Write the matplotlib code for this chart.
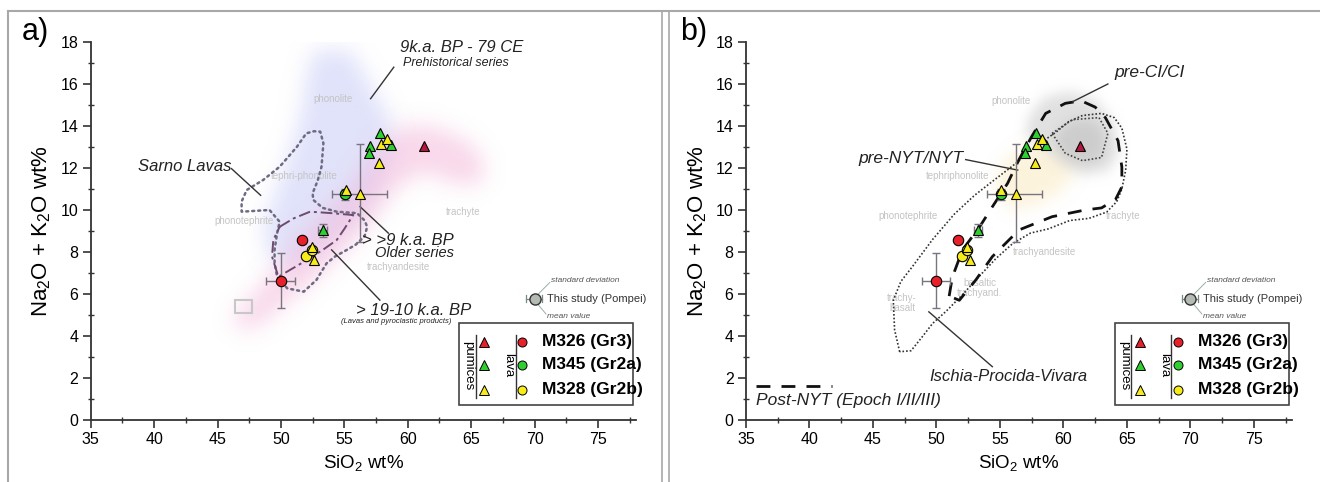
import numpy as np
import matplotlib
matplotlib.use('Agg')
import matplotlib.pyplot as plt
from matplotlib.path import Path
from matplotlib.lines import Line2D
from matplotlib.patches import Rectangle

plt.rcParams['font.family'] = ['Liberation Sans', 'DejaVu Sans']
plt.rcParams['mathtext.default'] = 'regular'

# ---------------- data ----------------
# pumices (triangles)
pum_red_x = [61.3]
pum_red_y = [13.05]
pum_green_x = [57.8, 57.03, 56.95, 58.66, 53.3]
pum_green_y = [13.65, 13.05, 12.73, 13.1, 9.05]
pum_yel_x = [57.9, 58.34, 57.76, 56.24, 55.1, 52.42, 52.64]
pum_yel_y = [13.14, 13.37, 12.25, 10.75, 10.95, 8.25, 7.62]
# lavas (circles)
lava_red_x = [49.98, 51.69]
lava_red_y = [6.62, 8.57]
lava_green_x = [55.05]
lava_green_y = [10.75]
lava_yel_x = [51.98, 52.43]
lava_yel_y = [7.81, 8.08]
# error bars: x, y, xlo, xhi, ylo, yhi
err_x = [49.98, 56.24, 53.3, 55.05]
err_y = [6.62, 10.75, 9.05, 10.75]
err_xlo = [48.85, 54.0, 52.95, 54.85]
err_xhi = [51.1, 58.34, 53.6, 55.25]
err_ylo = [5.31, 8.48, 8.72, 10.5]
err_yhi = [7.93, 13.13, 9.33, 11.0]

x_ticks = [35, 40, 45, 50, 55, 60, 65, 70, 75]
y_ticks = [0, 2, 4, 6, 8, 10, 12, 14, 16, 18]

# panel a outlines / fields
blue_x = [52.5, 55.5, 57.0, 58.5, 59.0, 58.0, 56.5, 54.5, 52.5, 50.5, 49.0, 48.5, 49.5, 50.5, 51.5, 52.0]
blue_y = [17.6, 17.6, 16.0, 14.5, 13.0, 11.5, 10.0, 8.8, 7.8, 7.2, 7.8, 9.2, 10.8, 12.5, 14.5, 16.5]
pink_x = [46.0, 47.5, 49.5, 51.5, 53.5, 55.5, 57.5, 59.5, 62.0, 64.5, 66.0, 65.8, 64.0, 61.5, 59.5, 58.0, 56.5, 54.5, 52.5, 50.5, 48.5, 47.0]
pink_y = [4.8, 5.8, 7.2, 8.8, 10.0, 11.2, 13.0, 14.0, 14.0, 13.4, 12.4, 11.3, 11.2, 11.8, 11.3, 10.2, 9.0, 7.8, 6.6, 5.6, 4.6, 4.2]
sarno_x = [51.25, 52.0, 52.6, 53.1, 53.35, 53.2, 52.9, 52.5, 52.55, 53.3, 54.4, 56.0, 56.6, 56.8, 56.6, 55.9, 55.2, 54.3, 53.6, 52.8, 51.8, 50.5, 49.7, 49.5, 49.5, 49.7, 49.9, 49.1, 46.9, 46.9, 47.3, 48.6, 49.9, 51.25]
sarno_y = [13.0, 13.65, 13.75, 13.73, 13.18, 12.06, 11.4, 10.8, 10.48, 10.1, 9.92, 9.85, 9.5, 9.2, 8.75, 8.35, 8.1, 7.8, 7.46, 6.67, 6.11, 6.27, 6.82, 7.5, 8.1, 8.9, 9.44, 10.0, 9.92, 10.4, 10.95, 11.43, 12.06, 13.0]
old_x = [49.9, 51.0, 52.3, 54.0, 55.7, 55.0, 54.4, 53.3, 52.0, 50.7, 49.8, 49.3, 49.4, 49.9]
old_y = [9.2, 9.6, 9.92, 9.85, 9.76, 9.1, 8.57, 8.1, 7.6, 7.14, 6.82, 7.78, 8.57, 9.2]

# panel b outlines / fields
gray_x = [57.0, 57.3, 58.5, 60.5, 62.5, 64.0, 64.4, 63.6, 61.5, 59.8, 58.3]
gray_y = [13.6, 14.5, 15.4, 15.7, 15.3, 14.2, 12.8, 11.9, 11.7, 12.2, 13.0]
dgray_x = [59.4, 60.3, 61.5, 62.8, 63.4, 63.1, 61.8, 60.3, 59.5]
dgray_y = [13.6, 14.2, 14.4, 14.2, 13.4, 12.5, 12.2, 12.5, 13.1]
cream_x = [54.5, 55.8, 57.5, 59.5, 61.0, 60.0, 58.0, 56.0]
cream_y = [11.3, 12.6, 13.2, 12.8, 12.0, 11.0, 10.3, 10.0]
isch_x = [47.1, 46.7, 46.6, 47.2, 48.1, 49.7, 51.4, 53.0, 54.7, 56.0, 57.0, 58.2, 59.4, 60.4, 61.5, 63.0, 64.0, 64.6, 65.0, 64.9, 64.6, 64.2, 63.4, 62.0, 60.5, 58.8, 57.4, 56.0, 54.7, 53.3, 52.1, 50.8, 49.7, 48.8, 48.0, 47.1]
isch_y = [3.25, 4.3, 5.7, 6.6, 7.3, 8.6, 9.8, 10.7, 11.5, 12.1, 12.6, 13.2, 13.7, 14.2, 14.5, 14.6, 14.4, 13.9, 12.9, 11.9, 11.0, 10.4, 9.9, 9.6, 9.5, 9.1, 8.9, 8.4, 7.7, 6.8, 6.0, 5.2, 4.6, 3.9, 3.3, 3.25]
inner_x = [59.1, 60.7, 62.8, 63.5, 63.0, 61.5, 60.15, 59.1]
inner_y = [13.65, 14.3, 14.4, 13.65, 12.5, 12.35, 12.7, 13.65]
preci_x = [51.0, 51.25, 52.05, 53.4, 54.4, 55.6, 56.5, 57.5, 58.6, 60.15, 61.4, 62.5, 63.3, 64.3, 64.6, 64.6, 64.1, 63.0, 61.7, 59.1, 56.5, 54.4, 53.1, 51.8, 51.0]
preci_y = [5.9, 6.8, 8.1, 9.2, 10.15, 11.27, 12.4, 13.5, 14.6, 15.08, 15.2, 14.9, 14.4, 13.3, 12.05, 11.1, 10.5, 10.1, 10.0, 9.68, 9.05, 7.78, 6.67, 5.7, 5.9]

tas_a = [("phonolite", 54.1, 15.3), ("tephri-phonolite", 51.8, 11.6), ("phonotephrite", 47.1, 9.5),
         ("trachyte", 64.4, 9.9), ("trachyandesite", 59.3, 7.3)]
tas_b = [("phonolite", 55.9, 15.2), ("tephriphonolite", 51.7, 11.6), ("phonotephrite", 47.8, 9.7),
         ("trachyte", 64.7, 9.7), ("trachyandesite", 58.5, 8.0), ("basaltic\ntrachyand.", 53.4, 6.3),
         ("trachy-\nbasalt", 47.3, 5.55)]

legend_labels = ["M326 (Gr3)", "M345 (Gr2a)", "M328 (Gr2b)"]
legend_colors = ["#e8202a", "#2fcf2f", "#f7ec1a"]

RED, GREEN, YEL = legend_colors
XMIN, XMAX, YMIN, YMAX = 35, 78, 0, 18

W, H = 1320, 482
fig = plt.figure(figsize=(W / 100, H / 100), dpi=100)


def blur_fill(ax, xs, ys, rgb, amax, sx=0.6, sy=0.38):
    gx = np.linspace(XMIN, XMAX, 431)
    gy = np.linspace(YMIN, YMAX, 181)
    X, Y = np.meshgrid(gx, gy)
    path = Path(np.column_stack([xs, ys]), closed=False)
    m = path.contains_points(np.column_stack([X.ravel(), Y.ravel()])).reshape(X.shape).astype(float)
    for s, axis in ((sx, 1), (sy, 0)):
        n = int(3 * s / 0.1) + 1
        k = np.exp(-0.5 * (np.arange(-n, n + 1) * 0.1 / s) ** 2)
        k /= k.sum()
        m = np.apply_along_axis(lambda r: np.convolve(r, k, mode='same'), axis, m)
    img = np.zeros(m.shape + (4,))
    img[..., :3] = np.array(rgb) / 255.0
    img[..., 3] = np.clip(m, 0, 1) * amax
    ax.imshow(img, extent=(XMIN, XMAX, YMIN, YMAX), origin='lower', aspect='auto',
              zorder=0, interpolation='bilinear')


def setup_axes(ax):
    ax.set_xlim(XMIN, XMAX)
    ax.set_ylim(YMIN, YMAX)
    for s in ('top', 'right'):
        ax.spines[s].set_visible(False)
    for s in ('left', 'bottom'):
        ax.spines[s].set_linewidth(1.3)
        ax.spines[s].set_color('#333333')
    ax.set_xticks(x_ticks)
    ax.set_yticks(y_ticks)
    ax.set_xticks(np.arange(37.5, 78.1, 5), minor=True)
    ax.set_yticks(np.arange(1, 18, 2), minor=True)
    ax.tick_params(which='major', direction='out', length=6, width=1.2, labelsize=11.5,
                   color='#333333', pad=3)
    ax.tick_params(which='minor', direction='inout', length=5, width=1.0, color='#333333')
    ax.set_xlabel('SiO$_2$ wt%', fontsize=13.5, labelpad=4)
    ax.set_ylabel('Na$_2$O + K$_2$O wt%', fontsize=16, labelpad=5)


def draw_data(ax):
    for x, y, xl, xh, yl, yh in zip(err_x, err_y, err_xlo, err_xhi, err_ylo, err_yhi):
        ax.errorbar([x], [y], xerr=[[x - xl], [xh - x]], yerr=[[y - yl], [yh - y]],
                    fmt='none', ecolor='#7a7480', elinewidth=1.0, capsize=3, capthick=1.0, zorder=3)
    mk = dict(markeredgecolor='black', markeredgewidth=0.8, linestyle='none', zorder=5)
    ax.plot(lava_red_x, lava_red_y, 'o', color=RED, markersize=7.5, **mk)
    ax.plot(lava_green_x, lava_green_y, 'o', color=GREEN, markersize=7.5, **mk)
    ax.plot(lava_yel_x, lava_yel_y, 'o', color=YEL, markersize=7.5, **mk)
    ax.plot(pum_red_x, pum_red_y, '^', color='#b5173f', markersize=7.5, **mk)
    ax.plot(pum_green_x, pum_green_y, '^', color=GREEN, markersize=7.5, **mk)
    ax.plot(pum_yel_x, pum_yel_y, '^', color=YEL, markersize=7.5, **mk)


def draw_legend(ax):
    ax.add_patch(Rectangle((64.05, 0.71), 13.75, 3.9, facecolor='white', edgecolor='#444444',
                           linewidth=1.2, zorder=6))
    ys = [3.72, 2.62, 1.45]
    ax.text(64.75, 2.6, 'pumices', rotation=270, ha='center', va='center', fontsize=9.5, zorder=7)
    ax.plot([65.35, 65.35], [1.05, 4.05], color='#333333', lw=1.0, zorder=7)
    ax.text(67.95, 2.6, 'lava', rotation=270, ha='center', va='center', fontsize=9.5, zorder=7)
    ax.plot([68.5, 68.5], [1.05, 4.05], color='#333333', lw=1.0, zorder=7)
    for y, lab, c in zip(ys, legend_labels, legend_colors):
        ax.plot([66.0], [y], '^', color=c, markersize=7, markeredgecolor='black',
                markeredgewidth=0.7, zorder=7)
        ax.plot([69.0], [y], 'o', color=c, markersize=6.5, markeredgecolor='black',
                markeredgewidth=0.7, zorder=7)
        ax.text(70.6, y, lab, fontsize=12.5, fontweight='bold', va='center', ha='left', zorder=7)
    # "This study" symbol
    ax.plot([69.3, 70.6], [5.77, 5.77], color='#7a8a80', lw=0.9, zorder=7)
    ax.plot([69.3, 69.3], [5.6, 5.94], color='#7a8a80', lw=0.9, zorder=7)
    ax.plot([70.6, 70.6], [5.6, 5.94], color='#7a8a80', lw=0.9, zorder=7)
    ax.plot([70.0], [5.77], 'o', color='#b4bab4', markersize=8, markeredgecolor='#333333',
            markeredgewidth=1.0, zorder=8)
    ax.plot([70.3, 71.2], [6.0, 6.55], color='#9ab0a0', lw=0.7, zorder=7)
    ax.plot([70.2, 70.9], [5.55, 5.05], color='#9ab0a0', lw=0.7, zorder=7)
    ax.text(71.0, 5.77, 'This study (Pompei)', fontsize=8, va='center', ha='left', color='#333333')
    ax.text(71.3, 6.62, 'standard deviation', fontsize=6, style='italic', va='center', ha='left',
            color='#555555')
    ax.text(71.0, 4.92, 'mean value', fontsize=6, style='italic', va='center', ha='left',
            color='#555555')


def tas_labels(ax, items):
    for t, x, y in items:
        ax.text(x, y, t, fontsize=7, color='#c4c4c4', ha='center', va='center', zorder=1,
                linespacing=1.0)


# ---------------- panel a ----------------
axa = fig.add_axes([90.7 / W, 62 / H, 545.3 / W, 378 / H])
blur_fill(axa, blue_x, blue_y, (205, 208, 248), 0.6, sx=0.8, sy=0.5)
blur_fill(axa, pink_x, pink_y, (243, 178, 215), 0.5, sx=0.8, sy=0.5)
tas_labels(axa, tas_a)
axa.add_patch(Rectangle((46.4, 5.1), 1.3, 0.6, facecolor='none', edgecolor='#c8c8c8', lw=1.5, zorder=1))
axa.plot(sarno_x, sarno_y, color='#6e6c84', lw=1.8, linestyle=(0, (0.8, 1.6)), zorder=2,
         solid_capstyle='round', dash_capstyle='round')
axa.plot(old_x, old_y, color='#6e4a70', lw=1.4, linestyle=(0, (6, 2, 1.5, 2)), zorder=2)
draw_data(axa)
setup_axes(axa)
draw_legend(axa)
it = dict(style='italic', color='#222222')
axa.text(59.4, 17.72, '9k.a. BP - 79 CE', fontsize=12, ha='left', va='center', **it)
axa.text(59.6, 17.0, 'Prehistorical series', fontsize=9, ha='left', va='center', **it)
axa.plot([58.9, 57.07], [16.8, 15.3], color='#333333', lw=1.0)
axa.text(46.1, 12.05, 'Sarno Lavas', fontsize=12, ha='right', va='center', **it)
axa.plot([46.1, 48.4], [11.97, 10.7], color='#333333', lw=1.0)
axa.text(56.4, 8.56, '> >9 k.a. BP', fontsize=12, ha='left', va='center', **it)
axa.text(60.5, 7.93, 'Older series', fontsize=10.5, ha='center', va='center', **it)
axa.plot([56.24, 58.47], [10.16, 8.9], color='#333333', lw=1.0)
axa.text(60.45, 5.23, '> 19-10 k.a. BP', fontsize=12, ha='center', va='center', **it)
axa.text(59.1, 4.68, '(Lavas and pyroclastic products)', fontsize=5.5, ha='center', va='center', **it)
axa.plot([54.0, 57.8], [8.1, 5.71], color='#333333', lw=1.0)

# ---------------- panel b ----------------
axb = fig.add_axes([746 / W, 62 / H, 546 / W, 378 / H])
blur_fill(axb, cream_x, cream_y, (250, 232, 185), 0.5)
blur_fill(axb, gray_x, gray_y, (195, 195, 195), 0.5, sx=0.45, sy=0.3)
blur_fill(axb, dgray_x, dgray_y, (160, 160, 160), 0.3, sx=0.45, sy=0.3)
tas_labels(axb, tas_b)
axb.plot(isch_x, isch_y, color='#333333', lw=1.2, linestyle=(0, (1, 1.2)), zorder=2)
axb.plot(inner_x, inner_y, color='#444444', lw=1.2, linestyle=(0, (1, 1.2)), zorder=2)
axb.plot(preci_x, preci_y, color='#111111', lw=2.0, linestyle=(0, (5, 4)), zorder=2)
draw_data(axb)
setup_axes(axb)
draw_legend(axb)
axb.text(64.0, 16.57, 'pre-CI/CI', fontsize=12.5, ha='left', va='center', **it)
axb.plot([63.5, 60.7], [16.0, 15.15], color='#333333', lw=1.0)
axb.text(52.1, 12.45, 'pre-NYT/NYT', fontsize=12.5, ha='right', va='center', **it)
axb.plot([52.3, 56.4], [12.4, 11.9], color='#333333', lw=1.0)
axb.text(55.7, 2.06, 'Ischia-Procida-Vivara', fontsize=12, ha='center', va='center', **it)
axb.plot([49.4, 54.4], [5.15, 2.54], color='#333333', lw=1.0)
axb.text(35.8, 0.95, 'Post-NYT (Epoch I/II/III)', fontsize=12.5, ha='left', va='center', **it)
axb.plot([35.8, 41.8], [1.6, 1.6], color='#111111', lw=2.0, linestyle=(0, (5, 4)))

# panel labels and frame
fig.text(22 / W, 1 - 40 / H, 'a)', fontsize=22, ha='left', va='baseline')
fig.text(680 / W, 1 - 40 / H, 'b)', fontsize=22, ha='left', va='baseline')
fc = '#a8a8a8'
fig.add_artist(Line2D([8 / W, 1], [1 - 11 / H, 1 - 11 / H], color=fc, lw=1.5))
fig.add_artist(Line2D([8 / W, 8 / W], [0, 1 - 11 / H], color=fc, lw=1.5))
fig.add_artist(Line2D([662 / W, 662 / W], [0, 1 - 11 / H], color=fc, lw=1.2))
fig.add_artist(Line2D([669 / W, 669 / W], [0, 1 - 11 / H], color=fc, lw=1.2))

fig.savefig('out.png', dpi=100)
